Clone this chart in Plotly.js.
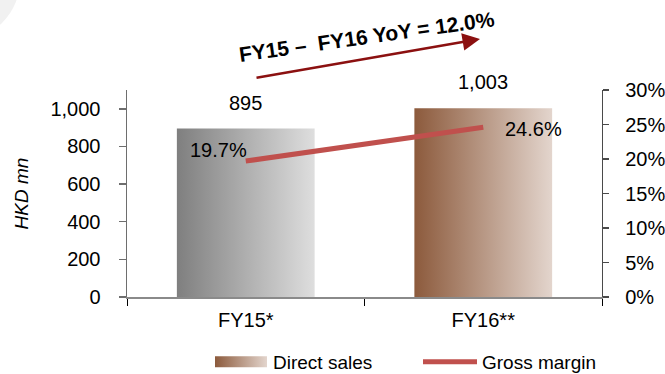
<!DOCTYPE html>
<html>
<head>
<meta charset="utf-8">
<script src="https://cdn.plot.ly/plotly-3.0.1.min.js"></script>
<style>
  html, body { margin: 0; padding: 0; background: #fff; }
  #chart { width: 665px; height: 374px; }
</style>
</head>
<body>
<div id="chart"></div>
<script>
// ---- data ----
const categories = ["FY15*", "FY16**"];
const directSales = [895, 1003];
const grossMargin = [0.197, 0.246];
const salesLabels = ["895", "1,003"];
const marginLabels = ["19.7%", "24.6%"];
const yoyText = "FY15 \u2013 \u00a0FY16 YoY = 12.0%";

const FONT = "Arial, 'Liberation Sans', sans-serif";

const traces = [
  {
    type: "bar",
    name: "Direct sales",
    x: categories,
    y: directSales,
    marker: { color: ["#b0b0b0", "#b89580"], line: { width: 0 } },
    hoverinfo: "skip"
  },
  {
    type: "scatter",
    mode: "lines",
    name: "Gross margin",
    x: categories,
    y: grossMargin,
    yaxis: "y2",
    line: { color: "#C0504D", width: 5 },
    hoverinfo: "skip"
  }
];

const annotations = [];
categories.forEach((c, i) => {
  annotations.push({
    x: c, y: directSales[i], xref: "x", yref: "y",
    text: salesLabels[i], showarrow: false,
    yanchor: "bottom", yshift: 13,
    font: { family: FONT, size: 20, color: "#000" }
  });
});
annotations.push({
  x: categories[0], y: grossMargin[0], xref: "x", yref: "y2",
  text: marginLabels[0], showarrow: false,
  xanchor: "right", yanchor: "middle", xshift: 3, yshift: 11,
  font: { family: FONT, size: 20, color: "#000" }
});
annotations.push({
  x: categories[1], y: grossMargin[1], xref: "x", yref: "y2",
  text: marginLabels[1], showarrow: false,
  xanchor: "left", yanchor: "middle", xshift: 20, yshift: -2,
  font: { family: FONT, size: 20, color: "#000" }
});
// YoY arrow
annotations.push({
  x: (480 - 127) / 475, y: (297 - 39) / 207, xref: "paper", yref: "paper",
  ax: -225, ay: 39, axref: "pixel", ayref: "pixel",
  showarrow: true, arrowhead: 2, arrowsize: 1.4, arrowwidth: 2.5,
  arrowcolor: "#8B1010", text: ""
});
annotations.push({
  x: (367 - 127) / 475, y: (297 - 37) / 207, xref: "paper", yref: "paper",
  text: "<b>" + yoyText + "</b>", showarrow: false, textangle: -8,
  xanchor: "center", yanchor: "middle",
  font: { family: FONT, size: 21, color: "#000" }
});

const layout = {
  width: 665, height: 374,
  margin: { l: 127, r: 63, t: 90, b: 77, pad: 0, autoexpand: false },
  paper_bgcolor: "#fff", plot_bgcolor: "rgba(0,0,0,0)",
  font: { family: FONT, size: 20, color: "#000" },
  bargap: 0.42,
  showlegend: true,
  legend: {
    orientation: "h", x: (211 - 127) / 475, xanchor: "left",
    y: -(343 - 297) / 207, yanchor: "top",
    entrywidth: 142, entrywidthmode: "pixels", itemwidth: 52,
    font: { family: FONT, size: 19, color: "#000" },
    bgcolor: "rgba(0,0,0,0)"
  },
  xaxis: {
    type: "category", range: [-0.5, 1.5], fixedrange: true,
    showline: true, linecolor: "#8a8a8a", linewidth: 2,
    ticks: "outside", tickson: "boundaries", ticklen: 7, tickcolor: "#000", tickwidth: 1,
    showgrid: false, zeroline: false,
    tickfont: { family: FONT, size: 20, color: "#000" },
    ticklabelstandoff: 4
  },
  yaxis: {
    range: [0, 1100], tickvals: [0, 200, 400, 600, 800, 1000], tickformat: ",d",
    showline: true, linecolor: "#6e6e6e", linewidth: 1.5,
    ticks: "outside", ticklen: 7, tickcolor: "#6e6e6e", tickwidth: 1.5,
    showgrid: false, zeroline: false,
    tickfont: { family: FONT, size: 20, color: "#000" },
    ticklabelstandoff: 14,
    title: { text: "<i>HKD mn</i>", standoff: 17, font: { family: FONT, size: 19, color: "#000" } }
  },
  yaxis2: {
    overlaying: "y", side: "right", range: [0, 0.30], dtick: 0.05, tick0: 0,
    tickformat: ".0%",
    showline: true, linecolor: "#4a4a4a", linewidth: 1.2,
    ticks: "outside", ticklen: 6, tickcolor: "#4a4a4a", tickwidth: 1.2,
    showgrid: false, zeroline: false,
    tickfont: { family: FONT, size: 20, color: "#000" },
    ticklabelstandoff: 12
  },
  shapes: [{
    type: "circle", layer: "below",
    xref: "paper", yref: "paper", xsizemode: "pixel", ysizemode: "pixel",
    xanchor: (-40 - 127) / 475, yanchor: (297 + 20) / 207,
    x0: -60, x1: 60, y0: -60, y1: 60,
    fillcolor: "#f1f1f1", line: { width: 0 }
  }],
  annotations: annotations
};

function addGradient(svg, id, c1, c2) {
  const NS = "http://www.w3.org/2000/svg";
  let defs = svg.querySelector("defs");
  if (!defs) { defs = document.createElementNS(NS, "defs"); svg.insertBefore(defs, svg.firstChild); }
  if (svg.querySelector("#" + id)) return;
  const g = document.createElementNS(NS, "linearGradient");
  g.setAttribute("id", id);
  g.setAttribute("x1", "0"); g.setAttribute("y1", "0");
  g.setAttribute("x2", "1"); g.setAttribute("y2", "0");
  const s1 = document.createElementNS(NS, "stop");
  s1.setAttribute("offset", "0"); s1.setAttribute("stop-color", c1);
  const s2 = document.createElementNS(NS, "stop");
  s2.setAttribute("offset", "1"); s2.setAttribute("stop-color", c2);
  g.appendChild(s1); g.appendChild(s2);
  defs.appendChild(g);
}

function applyGradients(gd) {
  const svg = gd.querySelector("svg.main-svg");
  addGradient(svg, "gradGray", "#7f7f7f", "#dedede");
  addGradient(svg, "gradBrown", "#8c5a3c", "#e3d5cd");
  const bars = gd.querySelectorAll(".barlayer .point path");
  const ids = ["gradGray", "gradBrown"];
  bars.forEach((p, i) => { p.style.fill = "url(#" + ids[i % 2] + ")"; });
  // legend swatches
  const items = gd.querySelectorAll(".legend .traces");
  items.forEach((it) => {
    const txt = it.querySelector("text.legendtext");
    if (txt && txt.textContent === "Direct sales") {
      const p = it.querySelector(".legendpoints path");
      if (p) {
        p.setAttribute("d", "M-27,-5.5H25V5.5H-27Z");
        p.style.fill = "url(#gradBrown)";
        p.style.stroke = "none";
      }
    }
    if (txt && txt.textContent === "Gross margin") {
      const p = it.querySelector(".legendlines path");
      if (p) { p.setAttribute("d", "M3,0h54"); p.style.strokeWidth = "5px"; }
    }
  });
}

Plotly.newPlot("chart", traces, layout, { staticPlot: true, displayModeBar: false })
  .then(gd => applyGradients(gd));
</script>
</body>
</html>
